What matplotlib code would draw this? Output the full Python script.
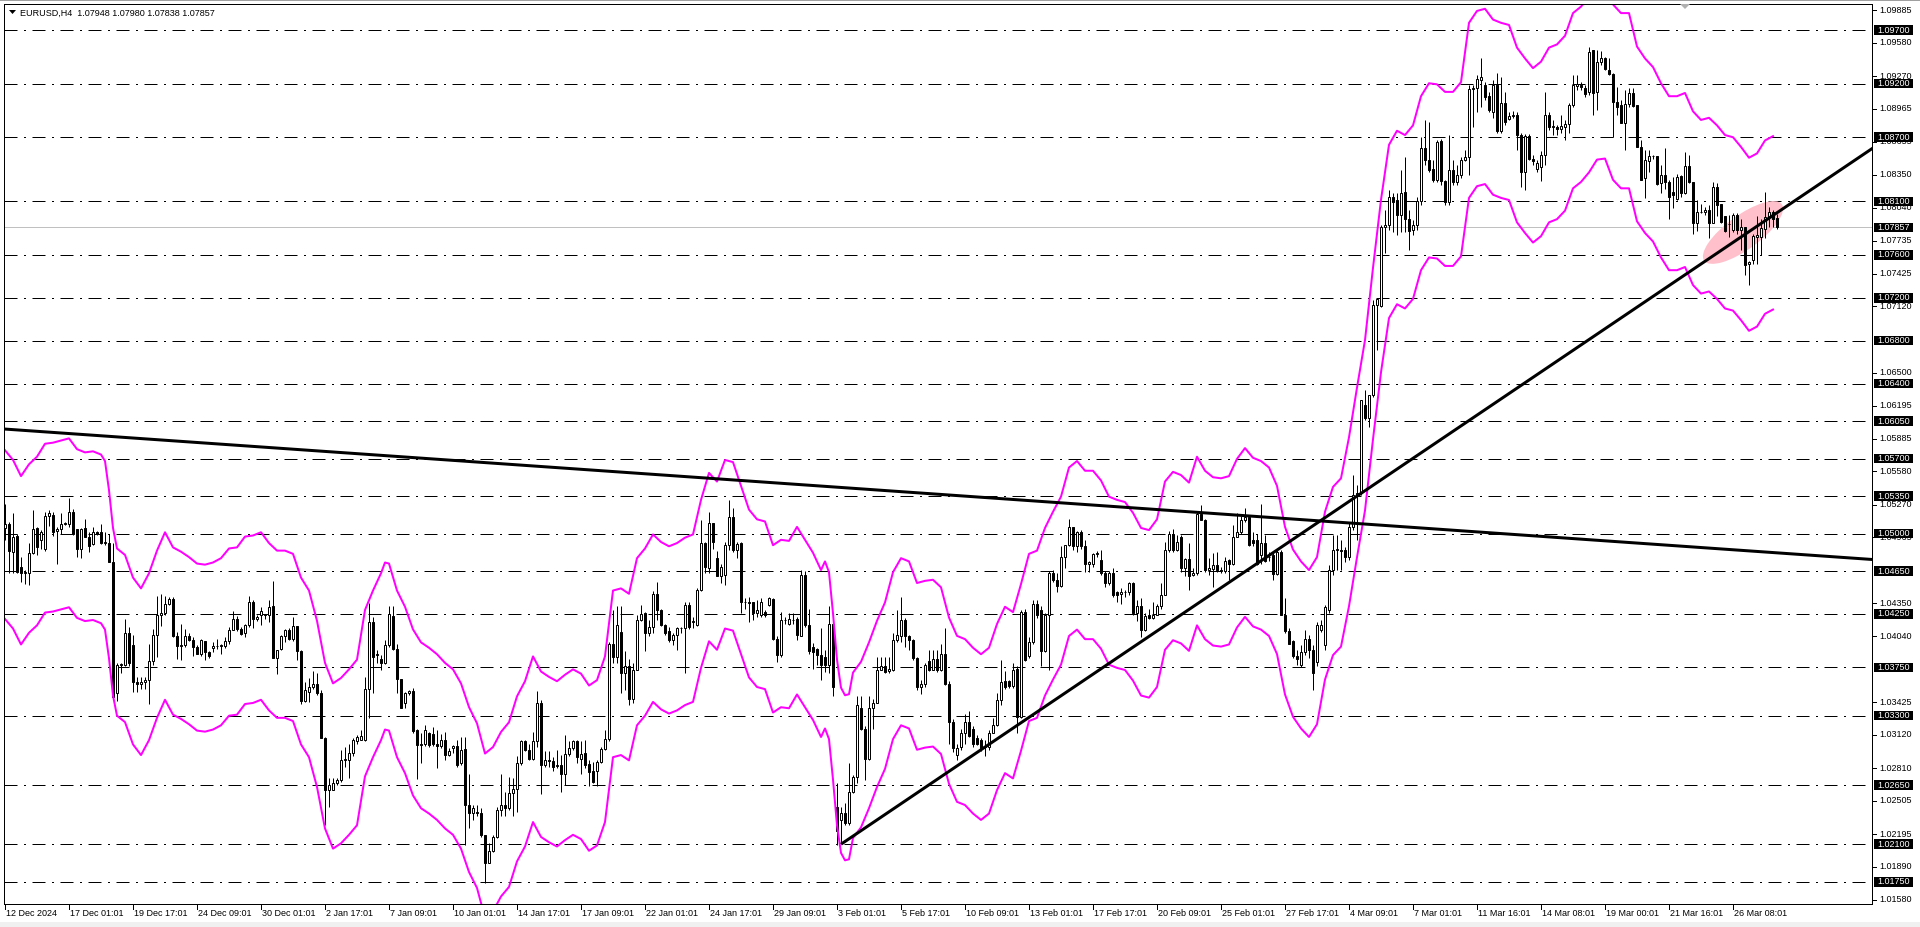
import matplotlib
matplotlib.use("Agg")
import matplotlib.pyplot as plt
import matplotlib.transforms as mtransforms
from matplotlib.patches import Rectangle, Ellipse, Polygon
from matplotlib.collections import LineCollection

plt.rcParams['font.family'] = ['Liberation Sans', 'DejaVu Sans']

# ---------------- data (EURUSD H4) ----------------
header = "EURUSD,H4  1.07948 1.07980 1.07838 1.07857"

opens = [
1.0505,1.0509,1.0483,1.0498,1.0469,1.0463,1.0463,1.0482,1.0505,1.0494,
1.0486,1.0516,1.0517,1.0502,1.0504,1.0509,1.0509,1.0520,1.0504,1.0486,
1.0505,1.0497,1.0490,1.0501,1.0501,1.0491,1.0491,1.0473,1.0351,1.0377,
1.0377,1.0407,1.0396,1.0361,1.0360,1.0361,1.0363,1.0381,1.0405,1.0424,
1.0426,1.0434,1.0439,1.0404,1.0395,1.0396,1.0404,1.0401,1.0394,1.0388,
1.0400,1.0389,1.0393,1.0395,1.0395,1.0395,1.0400,1.0410,1.0420,1.0411,
1.0407,1.0415,1.0436,1.0420,1.0424,1.0424,1.0424,1.0432,1.0384,1.0392,
1.0404,1.0410,1.0402,1.0414,1.0390,1.0344,1.0352,1.0357,1.0360,1.0351,
1.0309,1.0261,1.0261,1.0267,1.0270,1.0289,1.0289,1.0295,1.0306,1.0307,
1.0307,1.0355,1.0417,1.0387,1.0383,1.0379,1.0396,1.0423,1.0392,1.0364,
1.0342,1.0351,1.0353,1.0317,1.0303,1.0304,1.0314,1.0313,1.0304,1.0302,
1.0307,1.0293,1.0300,1.0302,1.0286,1.0299,1.0247,1.0239,1.0240,1.0239,
1.0219,1.0192,1.0204,1.0217,1.0242,1.0247,1.0244,1.0258,1.0262,1.0286,
1.0306,1.0298,1.0290,1.0306,1.0342,1.0284,1.0289,1.0288,1.0283,1.0284,
1.0276,1.0294,1.0300,1.0306,1.0290,1.0295,1.0285,1.0278,1.0278,1.0287,
1.0299,1.0308,1.0397,1.0385,1.0408,1.0370,1.0376,1.0346,1.0373,1.0419,
1.0426,1.0407,1.0413,1.0444,1.0429,1.0415,1.0409,1.0401,1.0405,1.0412,
1.0412,1.0433,1.0417,1.0415,1.0447,1.0491,1.0468,1.0510,1.0477,1.0460,
1.0461,1.0489,1.0515,1.0485,1.0491,1.0436,1.0436,1.0436,1.0426,1.0424,
1.0427,1.0433,1.0439,1.0402,1.0387,1.0419,1.0416,1.0419,1.0420,1.0404,
1.0461,1.0415,1.0394,1.0392,1.0387,1.0385,1.0377,1.0416,1.0245,1.0233,
1.0239,1.0230,1.0259,1.0273,1.0337,1.0318,1.0290,1.0337,1.0342,1.0373,
1.0376,1.0372,1.0373,1.0401,1.0404,1.0419,1.0404,1.0401,1.0384,1.0357,
1.0360,1.0381,1.0373,1.0383,1.0373,1.0388,1.0360,1.0324,1.0293,1.0301,
1.0314,1.0324,1.0318,1.0309,1.0307,1.0301,1.0301,1.0314,1.0321,1.0345,
1.0362,1.0362,1.0358,1.0374,1.0329,1.0427,1.0386,1.0399,1.0434,1.0429,
1.0390,1.0424,1.0463,1.0457,1.0451,1.0478,1.0489,1.0506,1.0488,1.0501,
1.0488,1.0472,1.0472,1.0481,1.0475,1.0463,1.0454,1.0463,1.0445,1.0444,
1.0445,1.0445,1.0454,1.0426,1.0432,1.0410,1.0424,1.0421,1.0424,1.0432,
1.0443,1.0485,1.0500,1.0485,1.0497,1.0468,1.0476,1.0461,1.0463,1.0518,
1.0513,1.0466,1.0467,1.0471,1.0466,1.0465,1.0475,1.0472,1.0497,1.0501,
1.0513,1.0515,1.0494,1.0494,1.0480,1.0491,1.0478,1.0480,1.0462,1.0483,
1.0424,1.0409,1.0400,1.0386,1.0377,1.0389,1.0402,1.0391,1.0380,1.0410,
1.0396,1.0429,1.0466,1.0485,1.0485,1.0485,1.0478,1.0506,1.0536,1.0538,
1.0620,1.0608,1.0629,1.0713,1.0712,1.0786,1.0788,1.0814,1.0811,1.0797,
1.0819,1.0794,1.0783,1.0788,1.0810,1.0860,1.0849,1.0840,1.0830,1.0866,
1.0829,1.0809,1.0839,1.0828,1.0835,1.0849,1.0851,1.0915,1.0916,1.0923,
1.0919,1.0908,1.0893,1.0919,1.0876,1.0902,1.0887,1.0890,1.0891,1.0872,
1.0837,1.0871,1.0850,1.0840,1.0842,1.0853,1.0891,1.0879,1.0879,1.0878,
1.0879,1.0882,1.0900,1.0918,1.0919,1.0916,1.0912,1.0951,1.0912,1.0940,
1.0944,1.0933,1.0929,1.0903,1.0900,1.0883,1.0901,1.0911,1.0900,1.0861,
1.0832,1.0848,1.0852,1.0852,1.0827,1.0835,1.0828,1.0819,1.0812,1.0834,
1.0818,1.0843,1.0828,1.0790,1.0800,1.0800,1.0802,1.0790,1.0823,1.0808,
1.0796,1.0789,1.0783,1.0797,1.0783,1.0786,1.0752,1.0755,1.0777,1.0777,
1.0784,1.0795,1.0800,1.07948]

highs = [
1.0528,1.0511,1.0519,1.0500,1.0478,1.0466,1.0491,1.0522,1.0506,1.0503,
1.0520,1.0522,1.0520,1.0506,1.0519,1.0511,1.0533,1.0523,1.0504,1.0505,
1.0514,1.0501,1.0506,1.0502,1.0509,1.0501,1.0500,1.0491,1.0379,1.0379,
1.0420,1.0413,1.0405,1.0366,1.0366,1.0366,1.0397,1.0411,1.0442,1.0444,
1.0442,1.0441,1.0441,1.0408,1.0416,1.0411,1.0407,1.0403,1.0396,1.0402,
1.0400,1.0390,1.0399,1.0402,1.0397,1.0403,1.0413,1.0428,1.0423,1.0413,
1.0416,1.0442,1.0438,1.0424,1.0431,1.0425,1.0438,1.0456,1.0391,1.0405,
1.0411,1.0412,1.0422,1.0414,1.0391,1.0361,1.0365,1.0372,1.0370,1.0354,
1.0310,1.0272,1.0272,1.0272,1.0298,1.0301,1.0304,1.0309,1.0312,1.0317,
1.0366,1.0435,1.0422,1.0391,1.0387,1.0401,1.0432,1.0432,1.0397,1.0364,
1.0352,1.0354,1.0356,1.0318,1.0314,1.0321,1.0315,1.0319,1.0317,1.0313,
1.0315,1.0300,1.0303,1.0307,1.0310,1.0310,1.0276,1.0247,1.0247,1.0244,
1.0219,1.0211,1.0219,1.0245,1.0276,1.0259,1.0273,1.0272,1.0292,1.0307,
1.0307,1.0304,1.0315,1.0353,1.0345,1.0297,1.0297,1.0291,1.0298,1.0293,
1.0312,1.0306,1.0307,1.0307,1.0306,1.0307,1.0289,1.0287,1.0289,1.0301,
1.0317,1.0399,1.0429,1.0432,1.0432,1.0390,1.0383,1.0379,1.0424,1.0433,
1.0427,1.0419,1.0446,1.0455,1.0430,1.0416,1.0413,1.0407,1.0413,1.0413,
1.0436,1.0436,1.0422,1.0449,1.0513,1.0492,1.0520,1.0510,1.0484,1.0472,
1.0492,1.0531,1.0524,1.0492,1.0492,1.0440,1.0441,1.0436,1.0438,1.0440,
1.0429,1.0441,1.0440,1.0404,1.0427,1.0422,1.0426,1.0426,1.0422,1.0466,
1.0465,1.0430,1.0398,1.0393,1.0412,1.0391,1.0432,1.0417,1.0267,1.0245,
1.0248,1.0286,1.0275,1.0348,1.0348,1.0320,1.0348,1.0346,1.0385,1.0385,
1.0385,1.0385,1.0407,1.0429,1.0441,1.0421,1.0405,1.0402,1.0385,1.0363,
1.0379,1.0391,1.0391,1.0391,1.0397,1.0412,1.0362,1.0327,1.0304,1.0318,
1.0332,1.0334,1.0320,1.0312,1.0309,1.0307,1.0317,1.0328,1.0351,1.0382,
1.0372,1.0363,1.0379,1.0376,1.0429,1.0430,1.0403,1.0438,1.0438,1.0432,
1.0426,1.0465,1.0466,1.0463,1.0488,1.0489,1.0514,1.0506,1.0502,1.0503,
1.0494,1.0474,1.0482,1.0484,1.0485,1.0465,1.0465,1.0468,1.0446,1.0449,
1.0447,1.0455,1.0455,1.0438,1.0440,1.0426,1.0430,1.0436,1.0434,1.0454,
1.0492,1.0502,1.0504,1.0499,1.0499,1.0477,1.0491,1.0468,1.0520,1.0527,
1.0514,1.0477,1.0482,1.0483,1.0469,1.0478,1.0476,1.0508,1.0519,1.0516,
1.0524,1.0517,1.0501,1.0500,1.0528,1.0499,1.0483,1.0483,1.0486,1.0485,
1.0440,1.0412,1.0401,1.0391,1.0396,1.0410,1.0405,1.0396,1.0417,1.0419,
1.0433,1.0471,1.0499,1.0499,1.0494,1.0487,1.0510,1.0555,1.0545,1.0625,
1.0634,1.0629,1.0718,1.0720,1.0788,1.0802,1.0821,1.0818,1.0818,1.0839,
1.0851,1.0802,1.0793,1.0814,1.0870,1.0886,1.0884,1.0849,1.0867,1.0868,
1.0830,1.0872,1.0849,1.0844,1.0851,1.0858,1.0919,1.0919,1.0928,1.0944,
1.0921,1.0912,1.0923,1.0930,1.0926,1.0912,1.0893,1.0894,1.0893,1.0874,
1.0873,1.0873,1.0853,1.0849,1.0857,1.0912,1.0893,1.0886,1.0881,1.0891,
1.0886,1.0902,1.0928,1.0928,1.0921,1.0919,1.0954,1.0951,1.0951,1.0950,
1.0945,1.0944,1.0930,1.0917,1.0905,1.0914,1.0916,1.0916,1.0900,1.0867,
1.0858,1.0858,1.0853,1.0852,1.0844,1.0860,1.0830,1.0833,1.0836,1.0835,
1.0856,1.0853,1.0828,1.0811,1.0808,1.0805,1.0807,1.0828,1.0827,1.0808,
1.0796,1.0797,1.0799,1.0799,1.0794,1.0786,1.0754,1.0780,1.0796,1.0794,
1.0819,1.0805,1.0802,1.07980]

lows = [
1.0494,1.0463,1.0463,1.0463,1.0455,1.0453,1.0452,1.0481,1.0480,1.0486,
1.0484,1.0507,1.0498,1.0472,1.0500,1.0508,1.0506,1.0499,1.0478,1.0477,
1.0497,1.0483,1.0489,1.0499,1.0490,1.0489,1.0473,1.0346,1.0344,1.0370,
1.0376,1.0376,1.0352,1.0352,1.0355,1.0355,1.0341,1.0377,1.0385,1.0414,
1.0424,1.0433,1.0403,1.0383,1.0382,1.0394,1.0400,1.0386,1.0388,1.0386,
1.0382,1.0384,1.0389,1.0392,1.0388,1.0393,1.0397,1.0410,1.0409,1.0405,
1.0403,1.0413,1.0412,1.0418,1.0415,1.0420,1.0417,1.0384,1.0369,1.0391,
1.0399,1.0401,1.0400,1.0382,1.0341,1.0343,1.0343,1.0355,1.0349,1.0309,
1.0228,1.0245,1.0261,1.0265,1.0268,1.0282,1.0272,1.0292,1.0304,1.0307,
1.0306,1.0328,1.0351,1.0379,1.0373,1.0378,1.0394,1.0391,1.0351,1.0337,
1.0337,1.0349,1.0314,1.0271,1.0286,1.0302,1.0301,1.0302,1.0281,1.0300,
1.0289,1.0292,1.0295,1.0282,1.0284,1.0209,1.0225,1.0233,1.0236,1.0217,
1.0174,1.0192,1.0203,1.0216,1.0236,1.0236,1.0242,1.0236,1.0240,1.0284,
1.0297,1.0289,1.0289,1.0301,1.0257,1.0282,1.0282,1.0278,1.0281,1.0259,
1.0265,1.0292,1.0298,1.0286,1.0276,1.0281,1.0264,1.0267,1.0264,1.0286,
1.0298,1.0306,1.0379,1.0379,1.0351,1.0354,1.0340,1.0342,1.0373,1.0418,
1.0390,1.0404,1.0407,1.0419,1.0414,1.0405,1.0399,1.0396,1.0391,1.0407,
1.0370,1.0411,1.0412,1.0414,1.0446,1.0463,1.0463,1.0486,1.0460,1.0454,
1.0452,1.0485,1.0483,1.0477,1.0426,1.0430,1.0417,1.0419,1.0422,1.0422,
1.0422,1.0432,1.0401,1.0380,1.0385,1.0416,1.0415,1.0416,1.0401,1.0404,
1.0413,1.0388,1.0374,1.0377,1.0363,1.0371,1.0370,1.0348,1.0209,1.0211,
1.0228,1.0228,1.0258,1.0267,1.0317,1.0270,1.0289,1.0318,1.0342,1.0373,
1.0370,1.0370,1.0372,1.0399,1.0399,1.0394,1.0391,1.0382,1.0354,1.0350,
1.0357,1.0372,1.0373,1.0371,1.0372,1.0359,1.0304,1.0296,1.0289,1.0298,
1.0304,1.0310,1.0301,1.0303,1.0297,1.0292,1.0298,1.0314,1.0320,1.0340,
1.0355,1.0356,1.0356,1.0314,1.0328,1.0381,1.0384,1.0397,1.0421,1.0376,
1.0389,1.0373,1.0455,1.0445,1.0450,1.0468,1.0488,1.0485,1.0483,1.0486,
1.0464,1.0464,1.0469,1.0478,1.0461,1.0450,1.0452,1.0441,1.0436,1.0434,
1.0441,1.0443,1.0424,1.0418,1.0403,1.0409,1.0420,1.0420,1.0424,1.0430,
1.0443,1.0483,1.0483,1.0484,1.0464,1.0460,1.0447,1.0460,1.0461,1.0513,
1.0464,1.0461,1.0450,1.0464,1.0463,1.0463,1.0457,1.0471,1.0497,1.0500,
1.0511,1.0488,1.0488,1.0471,1.0472,1.0473,1.0474,1.0457,1.0461,1.0424,
1.0407,1.0397,1.0384,1.0377,1.0375,1.0387,1.0384,1.0354,1.0376,1.0408,
1.0391,1.0426,1.0461,1.0466,1.0466,1.0473,1.0475,1.0503,1.0494,1.0536,
1.0606,1.0599,1.0627,1.0671,1.0711,1.0762,1.0783,1.0781,1.0779,1.0781,
1.0781,1.0765,1.0779,1.0783,1.0807,1.0844,1.0837,1.0828,1.0828,1.0825,
1.0807,1.0807,1.0825,1.0825,1.0832,1.0848,1.0835,1.0879,1.0893,1.0898,
1.0905,1.0893,1.0888,1.0874,1.0874,1.0881,1.0886,1.0888,1.0858,1.0823,
1.0821,1.0849,1.0844,1.0837,1.0829,1.0844,1.0877,1.0872,1.0872,1.0874,
1.0867,1.0874,1.0898,1.0914,1.0914,1.0907,1.0909,1.0891,1.0895,1.0937,
1.0933,1.0928,1.0870,1.0891,1.0883,1.0858,1.0898,1.0898,1.0861,1.0830,
1.0813,1.0837,1.0850,1.0825,1.0818,1.0822,1.0794,1.0804,1.0811,1.0814,
1.0817,1.0827,1.0780,1.0782,1.0799,1.0797,1.0776,1.0790,1.0796,1.0790,
1.0781,1.0777,1.0781,1.0780,1.0765,1.0741,1.0732,1.0752,1.0752,1.0760,
1.0776,1.0786,1.0786,1.07838]

closes = [
1.0509,1.0484,1.0497,1.0464,1.0463,1.0464,1.0482,1.0504,1.0487,1.0501,
1.0516,1.0519,1.0501,1.0504,1.0509,1.0510,1.0520,1.0500,1.0486,1.0504,
1.0497,1.0488,1.0501,1.0500,1.0491,1.0492,1.0473,1.0347,1.0377,1.0378,
1.0407,1.0379,1.0361,1.0360,1.0361,1.0363,1.0381,1.0405,1.0424,1.0426,
1.0434,1.0439,1.0404,1.0395,1.0396,1.0404,1.0401,1.0394,1.0388,1.0401,
1.0389,1.0386,1.0395,1.0395,1.0396,1.0400,1.0410,1.0420,1.0411,1.0406,
1.0415,1.0436,1.0420,1.0422,1.0428,1.0425,1.0431,1.0384,1.0391,1.0404,
1.0410,1.0402,1.0414,1.0390,1.0344,1.0354,1.0357,1.0360,1.0351,1.0309,
1.0261,1.0265,1.0267,1.0270,1.0289,1.0290,1.0295,1.0307,1.0310,1.0311,
1.0355,1.0417,1.0385,1.0388,1.0379,1.0396,1.0425,1.0392,1.0364,1.0337,
1.0351,1.0353,1.0316,1.0303,1.0304,1.0317,1.0303,1.0304,1.0302,1.0307,
1.0293,1.0297,1.0302,1.0284,1.0298,1.0247,1.0239,1.0244,1.0239,1.0219,
1.0192,1.0204,1.0217,1.0242,1.0247,1.0244,1.0258,1.0262,1.0286,1.0306,
1.0298,1.0290,1.0306,1.0342,1.0284,1.0289,1.0288,1.0282,1.0284,1.0276,
1.0294,1.0300,1.0306,1.0291,1.0294,1.0284,1.0277,1.0268,1.0287,1.0299,
1.0308,1.0397,1.0385,1.0415,1.0370,1.0376,1.0346,1.0373,1.0419,1.0425,
1.0407,1.0413,1.0444,1.0429,1.0415,1.0407,1.0401,1.0405,1.0412,1.0412,
1.0433,1.0413,1.0418,1.0447,1.0491,1.0469,1.0510,1.0492,1.0460,1.0469,
1.0489,1.0515,1.0485,1.0490,1.0436,1.0436,1.0435,1.0426,1.0429,1.0436,
1.0424,1.0440,1.0402,1.0387,1.0419,1.0419,1.0420,1.0419,1.0405,1.0461,
1.0415,1.0390,1.0389,1.0387,1.0377,1.0377,1.0416,1.0357,1.0222,1.0239,
1.0230,1.0259,1.0273,1.0340,1.0318,1.0290,1.0337,1.0342,1.0373,1.0376,
1.0371,1.0374,1.0401,1.0405,1.0419,1.0404,1.0401,1.0384,1.0357,1.0360,
1.0377,1.0373,1.0383,1.0373,1.0388,1.0360,1.0324,1.0300,1.0300,1.0314,
1.0324,1.0311,1.0304,1.0304,1.0300,1.0302,1.0314,1.0321,1.0345,1.0361,
1.0357,1.0358,1.0373,1.0329,1.0427,1.0382,1.0399,1.0434,1.0424,1.0390,
1.0424,1.0463,1.0457,1.0451,1.0478,1.0489,1.0506,1.0488,1.0501,1.0488,
1.0472,1.0473,1.0481,1.0482,1.0463,1.0454,1.0463,1.0443,1.0443,1.0445,
1.0445,1.0454,1.0426,1.0432,1.0410,1.0423,1.0421,1.0424,1.0432,1.0443,
1.0485,1.0500,1.0485,1.0492,1.0468,1.0476,1.0460,1.0463,1.0518,1.0513,
1.0466,1.0468,1.0471,1.0466,1.0465,1.0474,1.0472,1.0497,1.0501,1.0513,
1.0515,1.0489,1.0491,1.0472,1.0491,1.0474,1.0478,1.0462,1.0483,1.0424,
1.0409,1.0397,1.0386,1.0383,1.0389,1.0402,1.0391,1.0370,1.0415,1.0415,
1.0431,1.0466,1.0485,1.0486,1.0484,1.0478,1.0506,1.0536,1.0538,1.0625,
1.0608,1.0629,1.0713,1.0719,1.0786,1.0788,1.0814,1.0809,1.0797,1.0818,
1.0794,1.0782,1.0788,1.0810,1.0860,1.0849,1.0839,1.0830,1.0865,1.0829,
1.0809,1.0839,1.0828,1.0835,1.0849,1.0851,1.0915,1.0916,1.0924,1.0926,
1.0907,1.0895,1.0919,1.0876,1.0902,1.0884,1.0890,1.0891,1.0872,1.0837,
1.0871,1.0850,1.0848,1.0846,1.0853,1.0891,1.0879,1.0880,1.0878,1.0880,
1.0882,1.0900,1.0919,1.0920,1.0917,1.0910,1.0949,1.0911,1.0940,1.0944,
1.0934,1.0929,1.0903,1.0898,1.0883,1.0901,1.0911,1.0899,1.0861,1.0830,
1.0849,1.0852,1.0852,1.0826,1.0835,1.0828,1.0814,1.0816,1.0833,1.0818,
1.0843,1.0828,1.0790,1.0800,1.0800,1.0802,1.0790,1.0823,1.0807,1.0791,
1.0782,1.0789,1.0797,1.0783,1.0786,1.0751,1.0753,1.0778,1.0779,1.0785,
1.0795,1.0800,1.0794,1.07857]

# Envelopes indicator: middle moving average sampled at candle indexes
env_idx = [0,2,4,6,8,10,12,14,16,18,20,22,24,25,26,27,28,30,32,34,36,38,40,42,44,46,48,50,
52,54,56,58,60,62,64,66,68,70,72,74,76,78,80,82,84,86,88,90,92,94,95,96,98,100,102,104,106,
108,110,112,114,116,118,120,122,124,126,128,130,132,134,136,138,140,142,144,146,148,150,152,
154,156,158,160,162,164,166,168,170,172,174,176,178,180,182,184,186,188,190,192,194,196,198,
200,202,204,205,206,207,208,209,210,211,212,214,216,218,220,222,224,226,228,230,232,234,236,
238,240,242,244,246,248,250,252,254,256,258,260,262,264,266,268,270,272,274,276,278,280,282,
284,286,288,290,292,294,296,298,300,302,304,306,308,310,312,314,316,318,320,322,324,326,328,
330,332,334,336,338,340,342,344,346,348,350,352,354,356,358,360,362,364,366,368,370,372,374,
376,378,380,382,384,386,388,390,392,394,396,398,400,402,404,406,408,410,412,414,416,418,420,
422,424,426,428,430,432,434,436,438,440,442]
env_mid = [1.0499,1.0490,1.0475,1.0486,1.0493,1.0505,1.0506,1.0508,1.0510,1.0500,1.0497,1.0498,
1.0495,1.0489,1.0462,1.0427,1.0408,1.0402,1.0381,1.0371,1.0385,1.0406,1.0423,1.0409,1.0405,
1.0400,1.0394,1.0393,1.0395,1.0399,1.0408,1.0409,1.0419,1.0420,1.0423,1.0413,1.0406,1.0406,
1.0403,1.0381,1.0369,1.0341,1.0302,1.0283,1.0288,1.0296,1.0305,1.0351,1.0369,1.0385,1.0395,
1.0394,1.0369,1.0354,1.0333,1.0321,1.0316,1.0310,1.0302,1.0296,1.0283,1.0261,1.0246,1.0218,
1.0224,1.0238,1.0247,1.0271,1.0285,1.0308,1.0294,1.0289,1.0285,1.0291,1.0296,1.0292,1.0281,
1.0286,1.0308,1.0369,1.0371,1.0366,1.0399,1.0408,1.0421,1.0414,1.0410,1.0413,1.0418,1.0421,
1.0453,1.0478,1.0470,1.0490,1.0488,1.0466,1.0444,1.0435,1.0433,1.0411,1.0416,1.0415,1.0428,
1.0416,1.0404,1.0388,1.0396,1.0386,1.0348,1.0305,1.0279,1.0272,1.0273,1.0293,1.0303,1.0321,
1.0341,1.0358,1.0386,1.0399,1.0396,1.0376,1.0378,1.0379,1.0372,1.0344,1.0327,1.0324,1.0316,
1.0310,1.0316,1.0338,1.0354,1.0349,1.0375,1.0403,1.0406,1.0427,1.0442,1.0456,1.0483,1.0489,
1.0480,1.0480,1.0471,1.0456,1.0453,1.0451,1.0441,1.0427,1.0425,1.0435,1.0470,1.0479,1.0476,
1.0469,1.0493,1.0480,1.0474,1.0473,1.0475,1.0491,1.0501,1.0492,1.0489,1.0483,1.0466,1.0428,
1.0407,1.0396,1.0388,1.0400,1.0442,1.0465,1.0473,1.0511,1.0557,1.0601,1.0668,1.0731,1.0782,
1.0795,1.0791,1.0800,1.0827,1.0839,1.0838,1.0831,1.0831,1.0840,1.0895,1.0906,1.0908,1.0898,
1.0895,1.0893,1.0872,1.0862,1.0853,1.0859,1.0872,1.0875,1.0883,1.0904,1.0910,1.0919,1.0931,
1.0932,1.0912,1.0904,1.0904,1.0873,1.0862,1.0854,1.0839,1.0827,1.0827,1.0830,1.0813,1.0805,
1.0807,1.0800,1.0791,1.0789,1.0780,1.0770,1.0774,1.0786,1.0790]
env_deviation = 0.0075  # 0.75 %

levels = [1.0970,1.0920,1.0870,1.0810,1.0760,1.0720,1.0680,1.0640,1.0605,1.0570,1.0535,
          1.0500,1.0465,1.0425,1.0375,1.0330,1.0265,1.0210,1.0175]
price_labels = ['1.09885','1.09580','1.09270','1.08965','1.08655','1.08350','1.08040','1.07735',
                '1.07425','1.07120','1.06500','1.06195','1.05885','1.05580','1.05270','1.04965',
                '1.04350','1.04040','1.03425','1.03120','1.02810','1.02505','1.02195','1.01890',
                '1.01580']
bid_price = 1.07857

date_idx = [0,16,32,48,64,80,96,112,128,144,160,176,192,208,224,240,256,272,288,304,320,
            336,352,368,384,400,416,432]
date_labels = ['12 Dec 2024','17 Dec 01:01','19 Dec 17:01','24 Dec 09:01','30 Dec 01:01',
               '2 Jan 17:01','7 Jan 09:01','10 Jan 01:01','14 Jan 17:01','17 Jan 09:01',
               '22 Jan 01:01','24 Jan 17:01','29 Jan 09:01','3 Feb 01:01','5 Feb 17:01',
               '10 Feb 09:01','13 Feb 01:01','17 Feb 17:01','20 Feb 09:01','25 Feb 01:01',
               '27 Feb 17:01','4 Mar 09:01','7 Mar 01:01','11 Mar 16:01','14 Mar 08:01',
               '19 Mar 00:01','21 Mar 16:01','26 Mar 08:01']

trend_down = [(0, 1.05975), (464, 1.04765)]     # ray across the whole chart
trend_up = [(209, 1.02100), (466.25, 1.08580)]  # ray from 3 Feb low
ellipse_center = (434.5, 1.07810)

# ---------------- figure ----------------
W, H, DPI = 1920, 927, 100
PX = 72.0 / DPI  # one pixel in points
fig = plt.figure(figsize=(W / DPI, H / DPI), dpi=DPI)
fig.patch.set_facecolor('white')
IDT = mtransforms.IdentityTransform()

def fx(x):
    return x / W

def fy(y):
    return 1 - y / H

L0, T0, R0, B0 = 4, 4, 1872, 904
ax = fig.add_axes([fx(L0), fy(B0), (R0 - L0) / W, (B0 - T0) / H])
ax.set_facecolor('white')
ax.set_xlim(-0.25, 466.75)
ax.set_ylim(1.015419, 1.099427)
ax.set_xticks([])
ax.set_yticks([])
for s in ax.spines.values():
    s.set_linewidth(PX)
    s.set_color('black')
    s.set_zorder(10)

# horizontal dash-dot levels
for lv in levels:
    ax.axhline(lv, color='black', lw=PX, dashes=(13, 6.5, 2, 6.5), zorder=1)
# bid line
ax.axhline(bid_price, color='#C0C0C0', lw=PX, zorder=1.1)

# ellipse highlight (drawn in pixel space)
cx, cy = ax.transData.transform(ellipse_center)
ell = Ellipse((cx, cy), 96, 34, angle=36, transform=IDT,
              facecolor='#FFC0CB', edgecolor='none', zorder=1.2)
ax.add_artist(ell)

# candles
segs = [((i, lo), (i, hi)) for i, (lo, hi) in enumerate(zip(lows, highs))]
ax.add_collection(LineCollection(segs, colors='black', linewidths=PX, zorder=3))
for i, (o, c) in enumerate(zip(opens, closes)):
    bull = c >= o
    ax.add_patch(Rectangle((i - 0.25, min(o, c)), 0.5, abs(c - o),
                           facecolor='white' if bull else 'black',
                           edgecolor='black', lw=PX, zorder=3.5))

# envelopes
upper = [m * (1 + env_deviation) for m in env_mid]
lower = [m * (1 - env_deviation) for m in env_mid]
ax.plot(env_idx, upper, color='#FF00FF', lw=2 * PX, zorder=4)
ax.plot(env_idx, lower, color='#FF00FF', lw=2 * PX, zorder=4)

# trend lines
(x0, y0), (x1, y1) = trend_down
k = (y1 - y0) / (x1 - x0)
ax.plot([-2, 470], [y0 + k * (-2 - x0), y0 + k * (470 - x0)], color='black',
        lw=3 * PX, zorder=5, solid_capstyle='butt')
(x0, y0), (x1, y1) = trend_up
k = (y1 - y0) / (x1 - x0)
ax.plot([x0, 470], [y0, y0 + k * (470 - x0)], color='black', lw=3 * PX, zorder=5,
        solid_capstyle='butt')

# right price scale
ytr = mtransforms.blended_transform_factory(fig.transFigure, ax.transData)
FS = 6.5
for s in price_labels:
    p = float(s)
    ax.text(fx(1879), p, s, transform=ytr, fontsize=FS, va='center', ha='left',
            color='black', clip_on=False, zorder=11)
    ax.plot([fx(1872), fx(1876)], [p, p], transform=ytr, color='black', lw=PX,
            clip_on=False, zorder=11)
for lv in levels + [bid_price]:
    s = '%.5f' % lv
    _, yd = ax.transData.transform((0, lv))
    box = Rectangle((1874, yd - 4.8), 39, 9.6, transform=IDT, facecolor='black',
                    edgecolor='none', zorder=12, clip_on=False)
    ax.add_artist(box)
    ax.text(fx(1877), lv, s, transform=ytr, fontsize=FS, va='center', ha='left',
            color='white', clip_on=False, zorder=13)

# time scale
xtr = mtransforms.blended_transform_factory(ax.transData, fig.transFigure)
for i, s in zip(date_idx, date_labels):
    ax.plot([i, i], [fy(904), fy(909)], transform=xtr, color='black', lw=PX,
            clip_on=False, zorder=11)
    ax.text(i + 0.3, fy(913.5), s, transform=xtr, fontsize=FS, va='center', ha='left',
            color='black', clip_on=False)

# header
fig.text(fx(20), fy(13), header, fontsize=FS, va='center', ha='left', color='black')
fig.patches.append(Polygon([(fx(9), fy(10)), (fx(16), fy(10)), (fx(12.5), fy(14))],
                           closed=True, transform=fig.transFigure, facecolor='black',
                           edgecolor='none'))
# chart shift marker
fig.patches.append(Polygon([(fx(1680), fy(4)), (fx(1690), fy(4)), (fx(1685), fy(9))],
                           closed=True, transform=fig.transFigure, facecolor='#B0B0B0',
                           edgecolor='none', zorder=20))
# window strips
fig.patches.append(Rectangle((0, fy(927)), 1, (927 - 922) / H, transform=fig.transFigure,
                             facecolor='#F0F0F0', edgecolor='none'))
fig.patches.append(Rectangle((0, fy(1)), 1, 1 / H, transform=fig.transFigure,
                             facecolor='#A0A0A0', edgecolor='none'))

fig.savefig('out.png', dpi=DPI)
